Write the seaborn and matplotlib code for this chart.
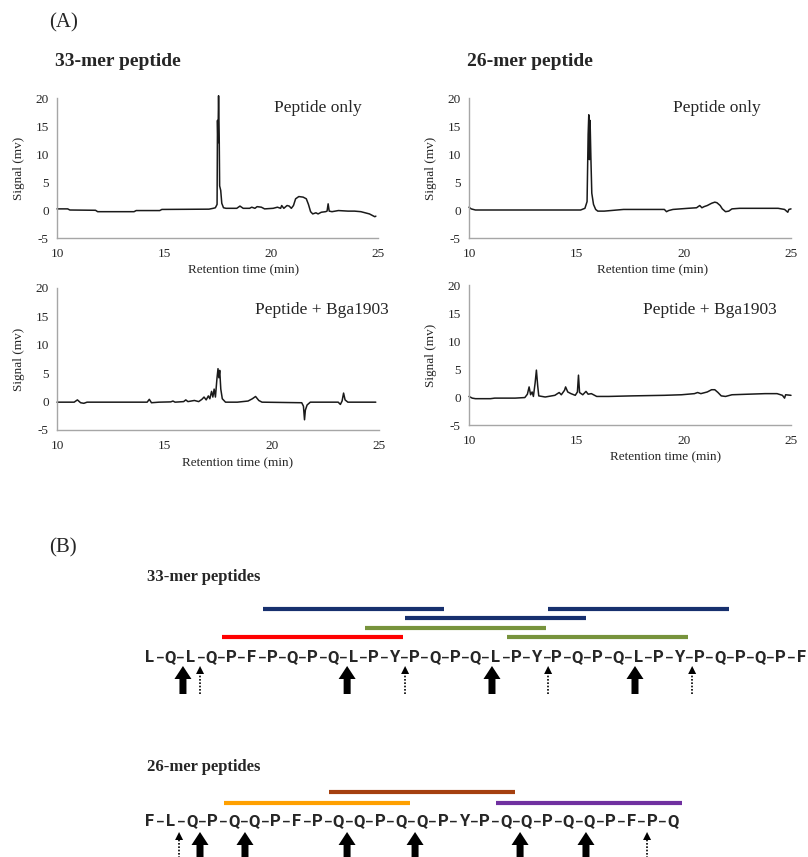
import matplotlib
matplotlib.use('Agg')
import matplotlib.pyplot as plt
import seaborn as sns

# ---- (A) HPLC traces: retention time (min) / signal (mv)
t33_only = [10.0, 10.5, 10.6, 11.8, 11.9, 13.6, 13.7, 14.8, 14.9, 17.1, 17.3, 17.4, 17.48, 17.5,
            17.52, 17.55, 17.58, 17.6, 17.65, 17.7, 17.78, 17.9, 18.4, 18.55, 18.7, 19.0, 19.1,
            19.25, 19.35, 19.55, 19.7, 20.1, 20.3, 20.45, 20.5, 20.6, 20.75, 20.85, 20.95, 21.05,
            21.15, 21.3, 21.5, 21.65, 21.75, 21.85, 21.95, 22.1, 22.2, 22.35, 22.55, 22.62, 22.67,
            22.72, 22.85, 23.15, 23.6, 23.9, 24.2, 24.4, 24.6, 24.75, 24.85, 24.9]
s33_only = [0.2, 0.2, 0.0, -0.05, -0.3, -0.3, -0.1, -0.1, 0.1, 0.15, 0.3, 0.4, 1.0, 16.0,
            12.0, 20.4, 13.0, 4.3, 3.5, 1.2, 0.4, 0.3, 0.3, 0.7, 0.3, 0.3, 0.5,
            0.3, 0.6, 0.5, 0.2, 0.3, 0.5, 0.3, 0.8, 0.3, 0.8, 0.7, 0.3, 0.8,
            2.0, 2.4, 2.3, 2.0, 1.0, -0.3, -0.7, -0.5, -0.7, -0.4, -0.3, -0.2, 1.1,
            -0.2, -0.3, -0.1, -0.2, -0.2, -0.3, -0.5, -0.7, -1.0, -1.2, -1.1]

t26_only = [10.0, 10.1, 10.3, 12.0, 15.2, 15.4, 15.5, 15.55, 15.58, 15.61, 15.64, 15.68, 15.72,
            15.8, 15.9, 16.0, 16.3, 16.6, 17.2, 18.5, 19.1, 19.2, 19.3, 19.5, 20.2, 20.6, 20.75,
            20.85, 20.95, 21.1, 21.3, 21.45, 21.55, 21.7, 21.8, 21.95, 22.1, 22.25, 22.6, 23.2,
            23.8, 24.4, 24.55, 24.7, 24.85, 24.9, 25.0]
s26_only = [0.5, 0.2, 0.0, 0.0, 0.0, 0.3, 1.5, 13.5, 17.0, 9.0, 16.0, 9.0, 3.0,
            1.0, 0.1, -0.2, -0.2, -0.1, 0.1, 0.1, 0.1, -0.3, -0.1, 0.1, 0.3, 0.4, 0.8,
            0.4, 0.6, 0.8, 1.2, 1.4, 1.3, 0.8, 0.2, -0.3, -0.2, 0.2, 0.3, 0.3,
            0.3, 0.3, 0.2, 0.1, -0.4, 0.1, 0.2]

t33_enz = [10.0, 10.8, 10.95, 11.1, 11.25, 11.4, 11.75, 14.2, 14.3, 14.4, 14.75, 15.3, 15.4,
           15.5, 15.9, 16.0, 16.1, 16.4, 16.6, 16.75, 16.85, 16.95, 17.05, 17.12, 17.2, 17.26,
           17.32, 17.38, 17.45, 17.5, 17.54, 17.58, 17.63, 17.7, 17.85, 18.4, 18.9, 19.1, 19.25,
           19.4, 19.55, 21.4, 21.48, 21.53, 21.57, 21.65, 21.8, 23.1, 23.2, 23.28, 23.35, 23.42,
           23.55, 24.85]
s33_enz = [-0.1, -0.1, 0.3, -0.2, -0.3, -0.1, -0.1, -0.1, 0.4, -0.2, -0.1, -0.05, 0.1,
           -0.1, 0.0, 0.3, 0.0, 0.2, 0.0, 0.4, 0.8, 0.3, 1.0, 0.5, 1.8, 0.8,
           2.2, 0.8, 4.0, 5.8, 4.2, 5.5, 2.2, 0.5, -0.1, -0.1, 0.1, 0.5, 0.9,
           0.2, -0.1, -0.2, -0.8, -3.2, -1.5, -0.6, -0.1, -0.1, -0.5, 0.1, 1.5, 0.3,
           -0.1, -0.1]

t26_enz = [10.0, 10.15, 10.3, 11.0, 11.2, 12.15, 12.6, 12.72, 12.8, 12.87, 12.94, 13.0, 13.08,
           13.14, 13.2, 13.25, 13.55, 14.0, 14.2, 14.3, 14.45, 14.5, 14.6, 14.75, 14.95, 15.05,
           15.1, 15.15, 15.3, 15.45, 15.55, 15.7, 15.95, 16.5, 17.6, 19.1, 19.9, 20.5, 20.65,
           20.8, 21.1, 21.3, 21.45, 21.6, 21.75, 21.95, 22.25, 23.0, 23.8, 24.35, 24.6, 24.7,
           24.75, 25.0]
s26_enz = [0.1, -0.2, -0.3, -0.3, -0.2, -0.2, -0.1, 0.5, 1.8, 0.4, 0.9, 0.1, 2.5,
           4.8, 2.0, 0.2, 0.0, 0.3, 0.8, 0.4, 1.2, 1.8, 0.9, 0.6, 0.3, 0.9,
           3.9, 0.8, 0.4, 1.0, 0.5, 0.6, 0.1, 0.1, 0.2, 0.3, 0.4, 0.6, 0.8,
           0.6, 0.9, 1.3, 1.3, 0.8, 0.2, 0.1, 0.4, 0.5, 0.6, 0.6, 0.3, -0.2,
           0.4, 0.3]

# ---- (B) peptide sequences, fragments (first/last residue) and cleavage arrows
seq33 = list('LQLQPFPQPQLPYPQPQLPYPQPQLPYPQPQPF')
frag33_first = [7, 14, 12, 5, 19, 21]
frag33_last = [15, 22, 20, 13, 27, 29]
frag33_row = [3, 2, 1, 0, 0, 3]
frag33_color = ['#17306E', '#17306E', '#77933C', '#FF0000', '#77933C', '#17306E']
major33 = [2.62, 10.69, 17.81, 24.84]
minor33 = [3.46, 13.54, 20.57, 27.65]

seq26 = list('FLQPQQPFPQQPQQPYPQQPQQPFPQ')
frag26_first = [5, 10, 18]
frag26_last = [13, 18, 26]
frag26_row = [0, 1, 0]
frag26_color = ['#FFA000', '#A5400F', '#7030A0']
major26 = [3.39, 5.54, 10.42, 13.67, 18.69, 21.84]
minor26 = [2.39, 24.76]

sns.set_style('white')
plt.rcParams['font.family'] = ['Liberation Serif', 'DejaVu Serif']
plt.rcParams['axes.unicode_minus'] = False

W, H = 808, 857
fig = plt.figure(figsize=(W / 100, H / 100), dpi=100)


def box(x0, y0, x1, y1):
    # pixel box (top-left origin) -> figure fraction rect
    return [x0 / W, 1 - y1 / H, (x1 - x0) / W, (y1 - y0) / H]


def fxy(x, y):
    return x / W, 1 - y / H


fig.text(*fxy(49, 23), '(A)', fontsize=15, va='center')
fig.text(*fxy(55, 62), '33-mer peptide', fontsize=14, weight='bold', va='center')
fig.text(*fxy(467, 62), '26-mer peptide', fontsize=14, weight='bold', va='center')

panels = [
    (t33_only, s33_only, box(57, 98, 378, 238), 'Peptide only', (0.95, 0.93), 0.58),
    (t26_only, s26_only, box(469, 98, 791, 238), 'Peptide only', (0.905, 0.93), 0.57),
    (t33_enz, s33_enz, box(57, 288, 379, 430), 'Peptide + Bga1903', (1.03, 0.845), 0.56),
    (t26_enz, s26_enz, box(469, 285, 791, 425), 'Peptide + Bga1903', (0.957, 0.82), 0.61),
]
for t, s, pos, note, note_xy, xl_x in panels:
    ax = fig.add_axes(pos)
    sns.lineplot(x=t, y=s, ax=ax, color='#1a1a1a', linewidth=1.1, estimator=None, sort=False)
    ax.lines[-1].set_clip_on(False)
    ax.set_xlim(10, 25)
    ax.set_ylim(-5, 20)
    ax.set_xticks([10, 15, 20, 25])
    ax.set_yticks([-5, 0, 5, 10, 15, 20])
    for side in ['top', 'right']:
        ax.spines[side].set_visible(False)
    for side in ['left', 'bottom']:
        ax.spines[side].set_color('#A6A6A6')
        ax.spines[side].set_linewidth(1.0)
    ax.tick_params(direction='out', length=4, width=1, color='#A6A6A6',
                   labelsize=9.5, labelcolor='#262626')
    ax.tick_params(axis='x', pad=3)
    ax.tick_params(axis='y', pad=2)
    ax.set_xlabel('Retention time (min)', fontsize=9.5, color='#262626')
    ax.set_ylabel('Signal (mv)', fontsize=9.5, color='#262626')
    ax.xaxis.set_label_coords(xl_x, -0.19)
    ax.yaxis.set_label_coords(-0.10, 0.5)
    ax.text(note_xy[0], note_xy[1], note, transform=ax.transAxes, ha='right', va='center',
            fontsize=12.5, clip_on=False)

fig.text(*fxy(49, 548), '(B)', fontsize=15, va='center')
fig.text(*fxy(147, 577), '33-mer peptides', fontsize=12, weight='bold', va='center')
fig.text(*fxy(147, 767), '26-mer peptides', fontsize=12, weight='bold', va='center')


def draw_seq(ax, seq, first, last, rows, colors, major, minor, row0, gap, ppr, tip, tail):
    for i, aa in enumerate(seq, start=1):
        ax.text(i, -6.0, aa, ha='center', va='baseline', family='Roboto', weight='bold',
                fontsize=12)
        if i < len(seq):
            ax.text(i + 0.5, -6.0, '\u2013', ha='center', va='baseline', family='Roboto',
                    weight='bold', fontsize=9.5)
    for a, b, r, c in zip(first, last, rows, colors):
        y = row0 + gap * r
        ax.plot([a - 0.45, b + 0.45], [y, y], color=c, lw=3, solid_capstyle='butt',
                clip_on=False)
    for x in major:
        ax.arrow(x, tail, 0, tip - tail, width=7 / ppr, head_width=17 / ppr, head_length=13,
                 length_includes_head=True, color='black', lw=0)
    for x in minor:
        ax.plot([x, x], [tail, tip - 6], color='black', lw=1.2, ls=(0, (1, 1)))
        ax.arrow(x, tip - 8, 0, 8, width=0, head_width=8 / ppr, head_length=8,
                 length_includes_head=True, color='black', lw=0)
    ax.axis('off')


# axes y units are pixels above the sequence centre line
ax33 = fig.add_axes(box(150, 595, 801, 700))
draw_seq(ax33, seq33, frag33_first, frag33_last, frag33_row, frag33_color,
         major33, minor33, 19, 9.3, (801 - 150) / 32, -10, -38)
ax33.set_xlim(1, 33)
ax33.set_ylim(-44, 61)

ax26 = fig.add_axes(box(150, 780, 673, 857))
draw_seq(ax26, seq26, frag26_first, frag26_last, frag26_row, frag26_color,
         major26, minor26, 17, 11, (673 - 150) / 25, -12, -45)
ax26.set_xlim(1, 26)
ax26.set_ylim(-37, 40)

fig.savefig('out.png', dpi=100)
